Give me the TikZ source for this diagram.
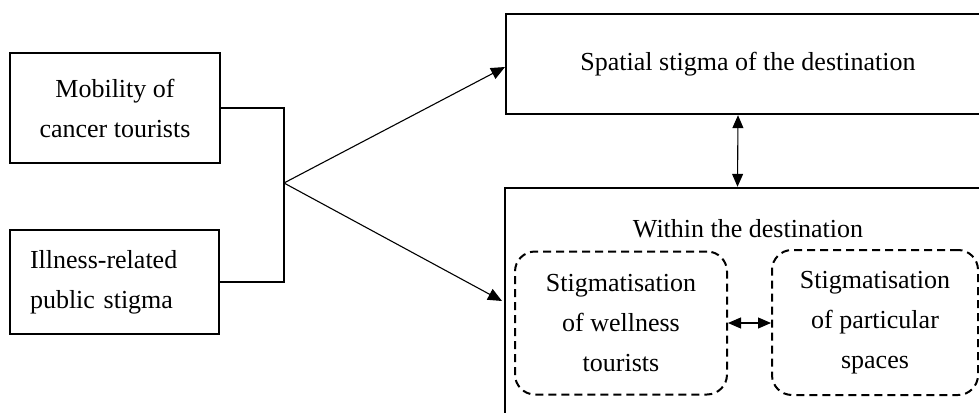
\documentclass[tikz,border=0pt]{standalone}
\usepackage{fontspec}
\setmainfont{Liberation Serif}
\usetikzlibrary{arrows.meta}

\tikzset{
  box/.style={draw, line width=2.4pt, inner sep=0pt, align=center},
  dbox/.style={draw, line width=2pt, rounded corners=20pt, dash pattern=on 8pt off 5pt, inner sep=0pt, align=center},
  link/.style={line width=1.1pt},
  tip/.style={-{Triangle[length=14pt,width=12pt]}},
  dtip/.style={{Triangle[length=13pt,width=11pt]}-{Triangle[length=13pt,width=11pt]}}
}

\begin{document}
\begin{tikzpicture}[x=1pt, y=-1pt, font=\fontsize{26}{40}\selectfont]
    \useasboundingbox (0,0) rectangle (979,412);
    \clip (0,0) rectangle (979,412);

    \node[box, minimum width=210pt, minimum height=110pt] (mobility) at (115, 108) {Mobility of\\cancer tourists};
    \node[box, minimum width=209pt, minimum height=104pt, align=left, text width=169pt] (illness) at (114.5, 282) {Illness-related\\public stigma};

    \node[box, minimum width=484pt, minimum height=100pt] (spatial) at (748, 64) {Spatial stigma of the destination};
    \node[box, minimum width=485pt, minimum height=250pt] (within) at (747.5, 313) {};
    \node (withinlabel) at (748, 229) {Within the destination};

    \node[dbox, minimum width=212pt, minimum height=143pt] (wellness) at (621, 323) {Stigmatisation\\of wellness\\tourists};
    \node[dbox, minimum width=206pt, minimum height=145pt] (spaces) at (875, 322.5) {Stigmatisation\\of particular\\spaces};

    \coordinate (junc) at (284, 183);
    \coordinate (toptip) at (505, 67);
    \coordinate (bottip) at (502, 301);

    \draw[link, line width=1.8pt] (mobility.east) -- (284, 108) -- (284, 282) -- (illness.east);
    \draw[link, tip] (junc) -- (toptip);
    \draw[link, tip] (junc) -- (bottip);
    \draw[link, dtip] ([xshift=-10pt]spatial.south) -- ([xshift=-10pt]within.north);
    \draw[link, dtip] (wellness.east) -- (wellness.east -| spaces.west);
  \end{tikzpicture}
\end{document}
